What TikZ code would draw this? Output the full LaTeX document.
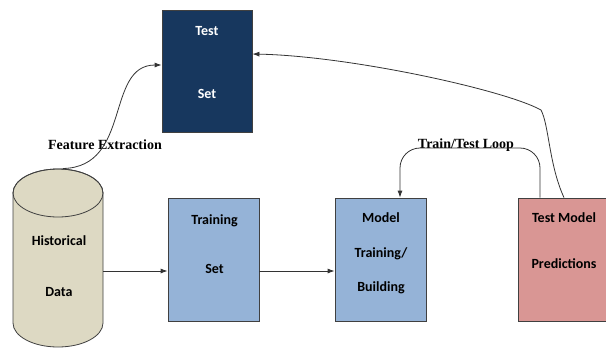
\documentclass[tikz,border=0pt]{standalone}
\usepackage{fontspec}
\setmainfont{Liberation Serif}
\newfontfamily\calibri{Carlito}
\usepackage{tikz}
\usetikzlibrary{positioning, calc, arrows.meta}
\definecolor{darknavy}{HTML}{17375E}
\definecolor{paleblue}{HTML}{95B3D7}
\definecolor{palebeige}{HTML}{DDD9C3}
\definecolor{palerose}{HTML}{D99694}

\begin{document}
\begin{tikzpicture}[x=1pt, y=-1pt]
		\clip (0,0) rectangle (606,349);
		\tikzstyle{box}=[rectangle, draw=black!75, line width=0.8pt, minimum width=91pt, minimum height=123pt, inner sep=0pt]
		\tikzstyle{btxt}=[anchor=base, inner sep=0pt, font=\calibri\bfseries\fontsize{14}{16}\selectfont, text=black]
		\tikzstyle{ltxt}=[anchor=base, inner sep=0pt, font=\bfseries\fontsize{14}{16}\selectfont]
		\tikzstyle{conn}=[line width=0.8pt, draw=black!80, -{Latex[length=7pt,width=5pt]}]
		%%
		\node (tset) at (207,71) [box, fill=darknavy, minimum width=90pt, minimum height=122pt] {};
		\node (trset) at (213.5,259.5) [box, fill=paleblue] {};
		\node (mdl) at (380.5,259.5) [box, fill=paleblue] {};
		\node (tmp) at (564,259.5) [box, fill=palerose] {};
		
		%% historical data store
		\draw [draw=black!75, line width=0.8pt, fill=palebeige] (13,193) -- (13,323) arc [start angle=180, end angle=0, x radius=45, y radius=24] -- (103,193) arc [start angle=0, end angle=-180, x radius=45, y radius=24] -- cycle;
		\draw [draw=black!75, line width=0.8pt] (58,193) ellipse [x radius=45, y radius=24];
		\coordinate (hist) at (58,258);
		\coordinate (histe) at (103,271);
		\coordinate (histn) at (63,168.5);
		
		\node (t1) at (207,35) [btxt, text=white] {Test};
		\node (t2) at (207,98) [btxt, text=white] {Set};
		\node (h1) at (59,245) [btxt] {Historical};
		\node (h2) at (59,296) [btxt] {Data};
		\node (r1) at (214.5,224) [btxt] {Training};
		\node (r2) at (214.5,273) [btxt] {Set};
		\node (m1) at (381,222) [btxt] {Model};
		\node (m2) at (381,257) [btxt] {Training/};
		\node (m3) at (381,291) [btxt] {Building};
		\node (p1) at (564,222) [btxt] {Test Model};
		\node (p2) at (564,268) [btxt] {Predictions};
		
		\node (lfe) at (105,149) [ltxt] {Feature Extraction};
		\node (lloop) at (466,148) [ltxt] {Train/Test Loop};
		
		\draw [conn] (histe) -- (histe -| trset.west);
		\draw [conn] ([yshift=-11.5pt]trset.east) -- ([yshift=-11.5pt]mdl.west);
		\draw [conn] (histn) .. controls (132,167) and (105,65) .. ([yshift=6pt]tset.west);
		\draw [conn] (tmp.north) .. controls (549,165) and (549,125) .. (541,110) .. controls (505,90) and (350,56) .. ([yshift=17pt]tset.east);
		
		\coordinate (looptop) at (470,148);
		\draw [conn, rounded corners=20pt] ([xshift=-24pt]tmp.north) |- (looptop) -| ([xshift=19.5pt]mdl.north);
		\end{tikzpicture}
\end{document}
